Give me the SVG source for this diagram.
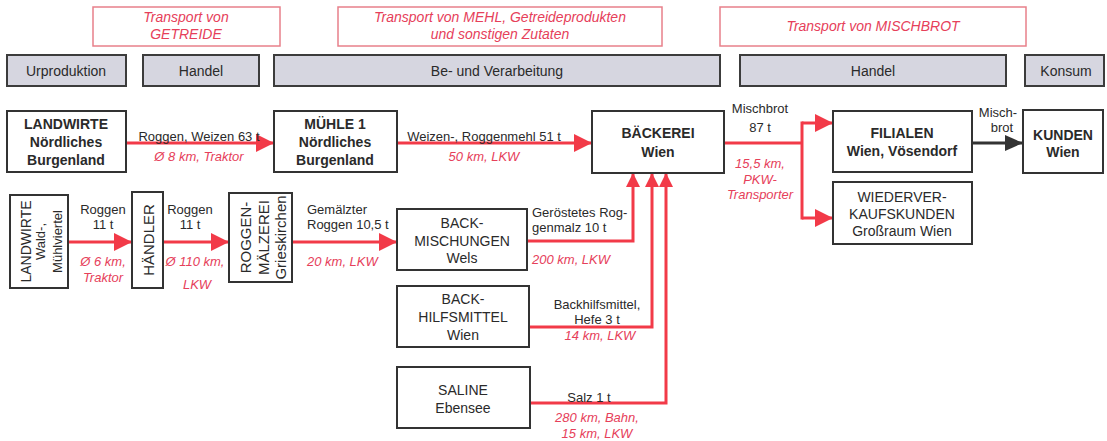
<svg xmlns="http://www.w3.org/2000/svg" width="1107" height="441" viewBox="0 0 1107 441">
<style>
  .tbox{fill:#fff;stroke:#e8808a;stroke-width:1.5}
  .ttext{font-family:"Liberation Sans",Arial,sans-serif;font-size:14px;font-style:italic;fill:#e6405a;text-anchor:middle}
  .bar{fill:#d6d6e0;stroke:#3c3c3c;stroke-width:2}
  .bartext{font-family:"Liberation Sans",Arial,sans-serif;font-size:14px;fill:#2a2a2a;text-anchor:middle}
  .node{fill:#fff;stroke:#333;stroke-width:2}
  .nb{font-family:"Liberation Sans",Arial,sans-serif;font-size:14px;font-weight:bold;fill:#2a2a2a;text-anchor:middle}
  .nn{font-family:"Liberation Sans",Arial,sans-serif;font-size:14px;fill:#2a2a2a;text-anchor:middle}
  .nr{font-family:"Liberation Sans",Arial,sans-serif;font-size:15px;fill:#2a2a2a;text-anchor:middle}
  .lbl{font-family:"Liberation Sans",Arial,sans-serif;font-size:13px;fill:#2a2a2a}
  .rl{font-family:"Liberation Sans",Arial,sans-serif;font-size:13px;font-style:italic;fill:#e6405a}
  .c{text-anchor:middle}
  .red{fill:none;stroke:#f23a48;stroke-width:3}
  .blk{fill:none;stroke:#333;stroke-width:3}
</style>
<defs>
  <marker id="ar" markerUnits="userSpaceOnUse" markerWidth="18" markerHeight="18" refX="18" refY="9" orient="auto">
    <path d="M0,0 L18,9 L0,18 z" fill="#f23a48"/>
  </marker>
  <marker id="ars" markerUnits="userSpaceOnUse" markerWidth="14" markerHeight="14" refX="14" refY="7" orient="auto">
    <path d="M0,0 L14,7 L0,14 z" fill="#f23a48"/>
  </marker>
  <marker id="ak" markerUnits="userSpaceOnUse" markerWidth="18" markerHeight="18" refX="18" refY="9" orient="auto">
    <path d="M0,1 L18,9 L0,17 z" fill="#333"/>
  </marker>
</defs>

<g id="transport-headers">
  <rect class="tbox" x="93" y="7" width="187" height="39"/>
  <text class="ttext" x="186" y="22">Transport von</text>
  <text class="ttext" x="186" y="39">GETREIDE</text>
  <rect class="tbox" x="338" y="7" width="324" height="39"/>
  <text class="ttext" x="500" y="22">Transport von MEHL, Getreideprodukten</text>
  <text class="ttext" x="500" y="39">und sonstigen Zutaten</text>
  <rect class="tbox" x="720" y="7" width="306" height="39"/>
  <text class="ttext" x="873" y="31">Transport von MISCHBROT</text>
</g>

<g id="stages">
  <rect class="bar" x="7" y="55" width="119" height="31"/>
  <text class="bartext" x="66" y="76">Urproduktion</text>
  <rect class="bar" x="143" y="55" width="116" height="31"/>
  <text class="bartext" x="201" y="76">Handel</text>
  <rect class="bar" x="274" y="55" width="446" height="31"/>
  <text class="bartext" x="497" y="76">Be- und Verarbeitung</text>
  <rect class="bar" x="740" y="55" width="266" height="31"/>
  <text class="bartext" x="873" y="76">Handel</text>
  <rect class="bar" x="1025" y="55" width="79" height="31"/>
  <text class="bartext" x="1066" y="76">Konsum</text>
</g>

<g id="connectors">
  <line class="red" x1="126" y1="143" x2="274" y2="143" marker-end="url(#ar)"/>
  <line class="red" x1="397" y1="143" x2="592" y2="143" marker-end="url(#ar)"/>
  <line class="red" x1="68" y1="242" x2="132" y2="242" marker-end="url(#ar)"/>
  <line class="red" x1="163" y1="242" x2="229" y2="242" marker-end="url(#ar)"/>
  <line class="red" x1="292" y1="242" x2="397" y2="242" marker-end="url(#ar)"/>
  <polyline class="red" points="527,241 633,241 633,173" marker-end="url(#ars)"/>
  <polyline class="red" points="529,327 652,327 652,173" marker-end="url(#ars)"/>
  <polyline class="red" points="530,403 666,403 666,173" marker-end="url(#ars)"/>
  <line class="red" x1="724" y1="143" x2="802" y2="143"/>
  <line class="red" x1="802" y1="121.5" x2="802" y2="219.5"/>
  <line class="red" x1="802" y1="123" x2="833" y2="123" marker-end="url(#ar)"/>
  <line class="red" x1="802" y1="218" x2="833" y2="218" marker-end="url(#ar)"/>
  <line class="blk" x1="972" y1="143" x2="1023" y2="143" marker-end="url(#ak)"/>
</g>

<g id="connector-labels">
  <text class="lbl c" x="199" y="141">Roggen, Weizen 63 t</text>
  <text class="rl c" x="199" y="161">Ø 8 km, Traktor</text>
  <text class="lbl c" x="484" y="141">Weizen-, Roggenmehl 51 t</text>
  <text class="rl c" x="484" y="161">50 km, LKW</text>
  <text class="lbl c" x="103" y="214">Roggen</text>
  <text class="lbl c" x="103" y="229">11 t</text>
  <text class="rl c" x="103" y="266">Ø 6 km,</text>
  <text class="rl c" x="103" y="282">Traktor</text>
  <text class="lbl c" x="190" y="214">Roggen</text>
  <text class="lbl c" x="190" y="229">11 t</text>
  <text class="rl c" x="195" y="266">Ø 110 km,</text>
  <text class="rl c" x="197" y="289">LKW</text>
  <text class="lbl" x="307" y="214">Gemälzter</text>
  <text class="lbl" x="307" y="229">Roggen 10,5 t</text>
  <text class="rl" x="307" y="266">20 km,  LKW</text>
  <text class="lbl" x="532" y="217">Geröstetes Rog-</text>
  <text class="lbl" x="532" y="232">genmalz 10 t</text>
  <text class="rl" x="532" y="264">200 km, LKW</text>
  <text class="lbl c" x="597" y="309">Backhilfsmittel,</text>
  <text class="lbl c" x="597" y="324">Hefe 3 t</text>
  <text class="rl c" x="600" y="340">14 km, LKW</text>
  <text class="lbl c" x="589" y="402">Salz 1 t</text>
  <text class="rl c" x="597" y="422">280 km,  Bahn,</text>
  <text class="rl c" x="597" y="438">15 km,  LKW</text>
  <text class="lbl c" x="760" y="113">Mischbrot</text>
  <text class="lbl c" x="760" y="132">87 t</text>
  <text class="rl c" x="760" y="168">15,5 km,</text>
  <text class="rl c" x="760" y="184">PKW-</text>
  <text class="rl c" x="760" y="199">Transporter</text>
  <text class="lbl c" x="998" y="117">Misch-</text>
  <text class="lbl c" x="1002" y="132">brot</text>
</g>

<g id="landwirte-burgenland">
  <rect class="node" x="7" y="111" width="119" height="61"/>
  <text class="nb" x="66" y="129">LANDWIRTE</text>
  <text class="nb" x="66" y="147">Nördliches</text>
  <text class="nb" x="66" y="165">Burgenland</text>
</g>
<g id="muehle1">
  <rect class="node" x="274" y="111" width="123" height="61"/>
  <text class="nb" x="335" y="129">MÜHLE 1</text>
  <text class="nb" x="335" y="147">Nördliches</text>
  <text class="nb" x="335" y="165">Burgenland</text>
</g>
<g id="baeckerei">
  <rect class="node" x="592" y="111" width="132" height="62"/>
  <text class="nb" x="658" y="138">BÄCKEREI</text>
  <text class="nb" x="658" y="157">Wien</text>
</g>
<g id="filialen">
  <rect class="node" x="833" y="111" width="139" height="61"/>
  <text class="nb" x="902" y="138">FILIALEN</text>
  <text class="nb" x="902" y="156">Wien, Vösendorf</text>
</g>
<g id="kunden">
  <rect class="node" x="1023" y="110" width="80" height="63"/>
  <text class="nb" x="1063" y="140">KUNDEN</text>
  <text class="nb" x="1063" y="157">Wien</text>
</g>
<g id="wiederverkaufskunden">
  <rect class="node" x="833" y="182" width="139" height="62"/>
  <text class="nn" x="902" y="202">WIEDERVER-</text>
  <text class="nn" x="902" y="219">KAUFSKUNDEN</text>
  <text class="nn" x="902" y="236">Großraum Wien</text>
</g>
<g id="landwirte-wald-muehlviertel">
  <rect class="node" x="10" y="195" width="58" height="93"/>
  <text class="nn" transform="translate(31,241.5) rotate(-90)">LANDWIRTE</text>
  <text class="nn" transform="translate(45,241.5) rotate(-90)" style="font-size:13px">Wald-,</text>
  <text class="nn" transform="translate(62,241.5) rotate(-90)" style="font-size:13px">Mühlviertel</text>
</g>
<g id="haendler">
  <rect class="node" x="132" y="192" width="31" height="96"/>
  <text class="nr" transform="translate(153.5,240) rotate(-90)">HÄNDLER</text>
</g>
<g id="roggen-maelzerei">
  <rect class="node" x="229" y="193" width="63" height="89"/>
  <text class="nr" transform="translate(250.5,237.5) rotate(-90)">ROGGEN-</text>
  <text class="nr" transform="translate(268.5,237.5) rotate(-90)">MÄLZEREI</text>
  <text class="nr" transform="translate(286,237.5) rotate(-90)">Grieskirchen</text>
</g>
<g id="backmischungen">
  <rect class="node" x="397" y="209" width="130" height="61"/>
  <text class="nn" x="462" y="228">BACK-</text>
  <text class="nn" x="462" y="246">MISCHUNGEN</text>
  <text class="nn" x="462" y="263">Wels</text>
</g>
<g id="backhilfsmittel">
  <rect class="node" x="397" y="286" width="132" height="61"/>
  <text class="nn" x="463" y="304">BACK-</text>
  <text class="nn" x="463" y="322">HILFSMITTEL</text>
  <text class="nn" x="463" y="340">Wien</text>
</g>
<g id="saline">
  <rect class="node" x="397" y="367" width="133" height="61"/>
  <text class="nn" x="463" y="395">SALINE</text>
  <text class="nn" x="463" y="413">Ebensee</text>
</g>
</svg>
